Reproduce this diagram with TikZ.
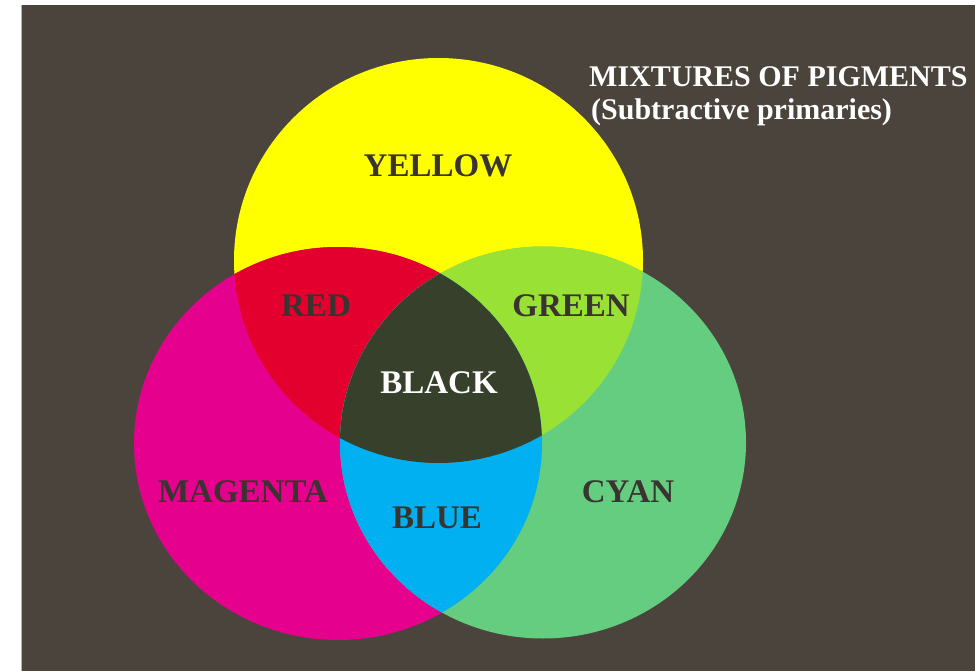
\documentclass[tikz,border=0pt]{standalone}
\usepackage{fontspec}
\setmainfont{Liberation Serif}
\definecolor{bgc}{HTML}{4B443D}
\definecolor{yel}{HTML}{FFFF00}
\definecolor{mag}{HTML}{E5008E}
\definecolor{cya}{HTML}{64CD80}
\definecolor{redc}{HTML}{E4002E}
\definecolor{grn}{HTML}{9AE136}
\definecolor{blu}{HTML}{00B0F0}
\definecolor{blk}{HTML}{36402A}
\definecolor{txt}{HTML}{3A3430}
\begin{document}
\begin{tikzpicture}[x=1pt,y=-1pt,
  lbl/.style={font=\fontsize{33}{33}\selectfont\bfseries, text=txt, inner sep=0pt},
  ttl/.style={font=\fontsize{30}{30}\selectfont\bfseries, text=white, inner sep=0pt, anchor=west}]
\useasboundingbox (0,0) rectangle (975,671);
\fill[white] (0,0) rectangle (975,671);
\fill[bgc] (22,5) rectangle (975,671);
\draw[gray!60, line width=1] (21.5,5) -- (21.5,671);
% ellipses
\def\yel{(438.5,260.5) ellipse [x radius=204.5, y radius=202.5]}
\def\mag{(338,443.5) ellipse [x radius=204, y radius=196.5]}
\def\cya{(543,442.5) ellipse [x radius=203, y radius=196]}
\fill[yel] \yel;
\fill[mag] \mag;
\fill[cya] \cya;
\begin{scope}
  \clip \yel;
  \fill[redc] \mag;
  \fill[grn] \cya;
\end{scope}
\begin{scope}
  \clip \mag;
  \fill[blu] \cya;
  \clip \cya;
  \fill[blk] \yel;
\end{scope}
% labels
\node[ttl] (t1) at (589,77) {MIXTURES OF PIGMENTS};
\node[ttl] (t2) at (591,112) {(Subtractive primaries)};
\node[lbl] (yellow) at (438,166) {YELLOW};
\node[lbl] (red) at (316,306) {RED};
\node[lbl] (green) at (571,306) {GREEN};
\node[lbl, text=white] (black) at (439,383) {BLACK};
\node[lbl] (magenta) at (243,492) {MAGENTA};
\node[lbl] (blue) at (437,518) {BLUE};
\node[lbl] (cyan) at (628,492) {CYAN};
\end{tikzpicture}
\end{document}
